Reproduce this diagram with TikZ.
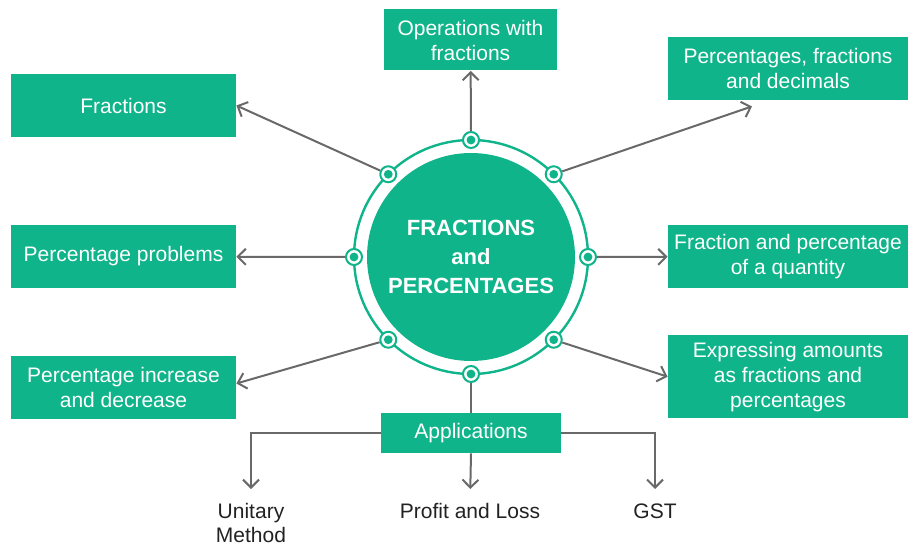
\documentclass[tikz,border=0pt]{standalone}
\usepackage{fontspec}
\setmainfont{Liberation Sans}
\usetikzlibrary{arrows.meta}
\definecolor{mintgreen}{RGB}{16,180,138}
\definecolor{linkgray}{RGB}{105,105,105}
\definecolor{labeldark}{RGB}{34,34,34}
\tikzset{
  >={Straight Barb[length=4pt,width=8pt]},
  topic/.style={fill=mintgreen,text=white,font=\fontsize{10.5}{12.5}\selectfont,
    align=center,inner sep=0pt},
  link/.style={draw=linkgray,line width=1pt,->},
  ringdot/.style={circle,draw=mintgreen,fill=white,line width=1pt,
    minimum size=8pt,inner sep=0pt},
  leaf/.style={text=labeldark,font=\fontsize{10.5}{12}\selectfont,
    align=center,inner sep=0pt},
}

\begin{document}
\begin{tikzpicture}[x=0.5pt,y=0.5pt]
  \useasboundingbox (0,0) rectangle (908,-545);
  % centre disc and ring
  \coordinate (c) at (471,-257);
  \fill[mintgreen] (c) circle (52pt);
  \draw[mintgreen,line width=1.2pt] (c) circle (58.5pt);
  \node[text=white,font=\bfseries\fontsize{11}{14.5}\selectfont,align=center]
    (title) at (c) {FRACTIONS\\and\\PERCENTAGES};
  \foreach \a/\n in {90/n,45/ne,0/e,-45/se,-90/s,-135/sw,180/w,135/nw}{
    \node[ringdot] (d\n) at ([shift={(\a:58.5pt)}]c) {};
    \fill[mintgreen] (d\n) circle (2.2pt);
  }
  % topics
  \node[topic,minimum width=86.5pt,minimum height=30.5pt] (ops) at (470.5,-40)
    {Operations with\\fractions};
  \node[topic,minimum width=112.5pt,minimum height=31.5pt] (frac) at (123.5,-105.5)
    {Fractions};
  \node[topic,minimum width=120pt,minimum height=31.5pt] (pfd) at (788,-68.5)
    {Percentages, fractions\\and decimals};
  \node[topic,minimum width=112.5pt,minimum height=31.5pt] (pp) at (123.5,-256.5)
    {Percentage problems};
  \node[topic,minimum width=120pt,minimum height=31.5pt] (fpq) at (788,-256.5)
    {Fraction and percentage\\of a quantity};
  \node[topic,minimum width=112.5pt,minimum height=31.5pt] (pid) at (123.5,-387.5)
    {Percentage increase\\and decrease};
  \node[topic,minimum width=120pt,minimum height=41.5pt] (exp) at (788,-376.7)
    {Expressing amounts\\as fractions and\\percentages};
  \node[topic,minimum width=90pt,minimum height=20pt] (app) at (471,-433)
    {Applications};
  \draw[link] (dn) -- (ops);
  \draw[link] (dnw) -- (frac.east);
  \draw[link] (dne) -- ([xshift=-18pt,yshift=-3pt]pfd.south);
  \draw[link] (dw) -- (pp);
  \draw[link] (de) -- (fpq);
  \draw[link] (dsw) -- ([yshift=2pt]pid.east);
  \draw[link] (dse) -- (exp.west);
  \draw[link,-] (ds) -- (app);
  % applications
  \node[leaf,anchor=north] (um) at (251,-503) {Unitary\\Method};
  \node[leaf,anchor=north] (pl) at (470,-503) {Profit and Loss};
  \node[leaf,anchor=north] (gst) at (655,-503) {GST};
  \draw[link,shorten >=7pt] (app.west) -| (um.north);
  \draw[link,shorten >=7pt] (app.south) -- (pl.north);
  \draw[link,shorten >=7pt] (app.east) -| (gst.north);
\end{tikzpicture}
\end{document}
